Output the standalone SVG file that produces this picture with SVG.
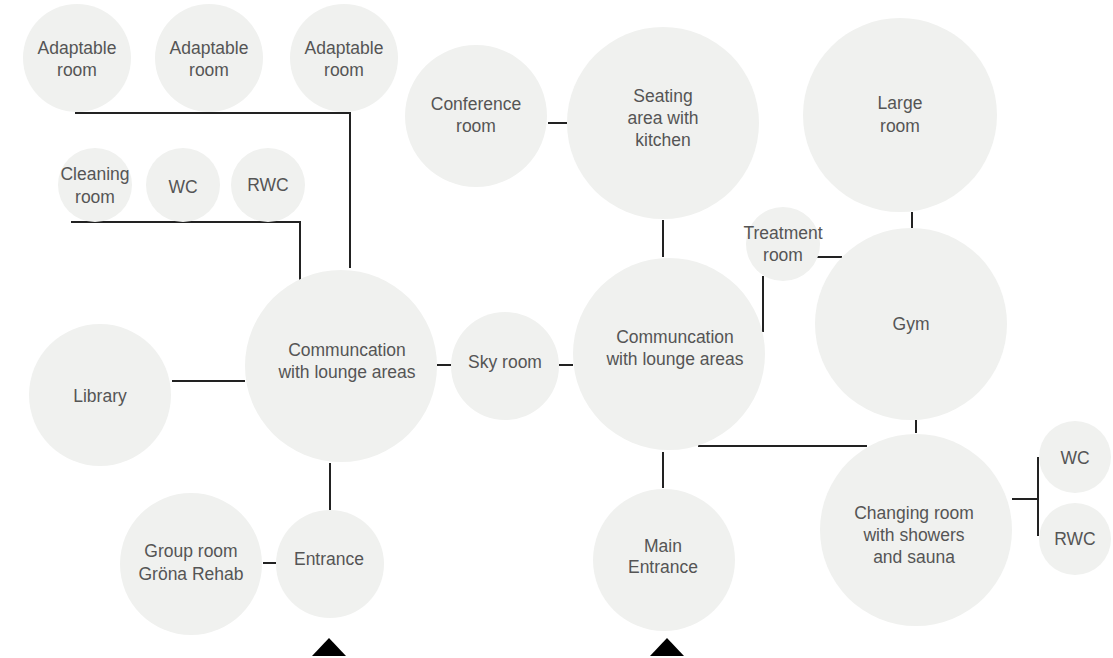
<svg xmlns="http://www.w3.org/2000/svg" width="1113" height="658" viewBox="0 0 1113 658">
<style>
.n{fill:#f0f1ef}
.t{font-family:"Liberation Sans",Arial,sans-serif;font-size:17.5px;fill:#555;text-anchor:middle}
.c{stroke:#222;stroke-width:2;fill:none}
.a{fill:#000}
</style>
<rect width="1113" height="658" fill="#fff"/>
<g id="connectors">
<polyline class="c" points="75,113 350,113 350,268"/>
<polyline class="c" points="71,222 300,222 300,280"/>
<line class="c" x1="172" y1="381" x2="245" y2="381"/>
<line class="c" x1="330" y1="463" x2="330" y2="510"/>
<line class="c" x1="263" y1="563" x2="276" y2="563"/>
<line class="c" x1="437" y1="365" x2="451" y2="365"/>
<line class="c" x1="559" y1="365" x2="573" y2="365"/>
<line class="c" x1="663" y1="452" x2="663" y2="488"/>
<line class="c" x1="548" y1="123" x2="567" y2="123"/>
<line class="c" x1="663" y1="220" x2="663" y2="257"/>
<line class="c" x1="816" y1="257" x2="842" y2="257"/>
<line class="c" x1="763" y1="276" x2="763" y2="332"/>
<line class="c" x1="912" y1="212" x2="912" y2="228"/>
<line class="c" x1="916" y1="420" x2="916" y2="433"/>
<line class="c" x1="698" y1="446" x2="867" y2="446"/>
<line class="c" x1="1012" y1="499" x2="1038" y2="499"/>
<line class="c" x1="1038" y1="457" x2="1038" y2="536"/>
<polygon class="a" points="312,656 346,656 329,638"/>
<polygon class="a" points="650,656 684,656 667,638"/>
</g>
<g id="adaptable1"><circle class="n" cx="77" cy="58" r="54"/><text class="t" x="77" y="54">Adaptable</text><text class="t" x="77" y="76">room</text></g>
<g id="adaptable2"><circle class="n" cx="209" cy="58" r="54"/><text class="t" x="209" y="54">Adaptable</text><text class="t" x="209" y="76">room</text></g>
<g id="adaptable3"><circle class="n" cx="344" cy="58" r="54"/><text class="t" x="344" y="54">Adaptable</text><text class="t" x="344" y="76">room</text></g>
<g id="cleaning"><circle class="n" cx="95" cy="185" r="37"/><text class="t" x="95" y="180">Cleaning</text><text class="t" x="95" y="203">room</text></g>
<g id="wc1"><circle class="n" cx="183" cy="185" r="37"/><text class="t" x="183" y="193">WC</text></g>
<g id="rwc1"><circle class="n" cx="268" cy="185" r="37"/><text class="t" x="268" y="191">RWC</text></g>
<g id="commLeft"><circle class="n" cx="341" cy="366" r="96"/><text class="t" x="347" y="356">Communcation</text><text class="t" x="347" y="378">with lounge areas</text></g>
<g id="library"><circle class="n" cx="100" cy="395" r="71"/><text class="t" x="100" y="402">Library</text></g>
<g id="group"><circle class="n" cx="191" cy="564" r="71"/><text class="t" x="191" y="557">Group room</text><text class="t" x="191" y="580">Gröna Rehab</text></g>
<g id="entrance"><circle class="n" cx="330" cy="564" r="54"/><text class="t" x="329" y="565">Entrance</text></g>
<g id="sky"><circle class="n" cx="505" cy="366" r="54"/><text class="t" x="505" y="368">Sky room</text></g>
<g id="commRight"><circle class="n" cx="669" cy="354" r="96"/><text class="t" x="675" y="343">Communcation</text><text class="t" x="675" y="365">with lounge areas</text></g>
<g id="mainEntrance"><circle class="n" cx="664" cy="560" r="71"/><text class="t" x="663" y="552">Main</text><text class="t" x="663" y="573">Entrance</text></g>
<g id="conference"><circle class="n" cx="476" cy="116" r="71"/><text class="t" x="476" y="110">Conference</text><text class="t" x="476" y="132">room</text></g>
<g id="seating"><circle class="n" cx="663" cy="123" r="96"/><text class="t" x="663" y="102">Seating</text><text class="t" x="663" y="124">area with</text><text class="t" x="663" y="146">kitchen</text></g>
<g id="treatment"><circle class="n" cx="783" cy="244" r="37"/><text class="t" x="783" y="239">Treatment</text><text class="t" x="783" y="261">room</text></g>
<g id="large"><circle class="n" cx="900" cy="115" r="97"/><text class="t" x="900" y="109">Large</text><text class="t" x="900" y="132">room</text></g>
<g id="gym"><circle class="n" cx="911" cy="324" r="96"/><text class="t" x="911" y="330">Gym</text></g>
<g id="changing"><circle class="n" cx="916" cy="530" r="96"/><text class="t" x="914" y="519">Changing room</text><text class="t" x="914" y="541">with showers</text><text class="t" x="914" y="563">and sauna</text></g>
<g id="wc2"><circle class="n" cx="1075" cy="457" r="36"/><text class="t" x="1075" y="464">WC</text></g>
<g id="rwc2"><circle class="n" cx="1075" cy="539" r="36"/><text class="t" x="1075" y="545">RWC</text></g>
</svg>
